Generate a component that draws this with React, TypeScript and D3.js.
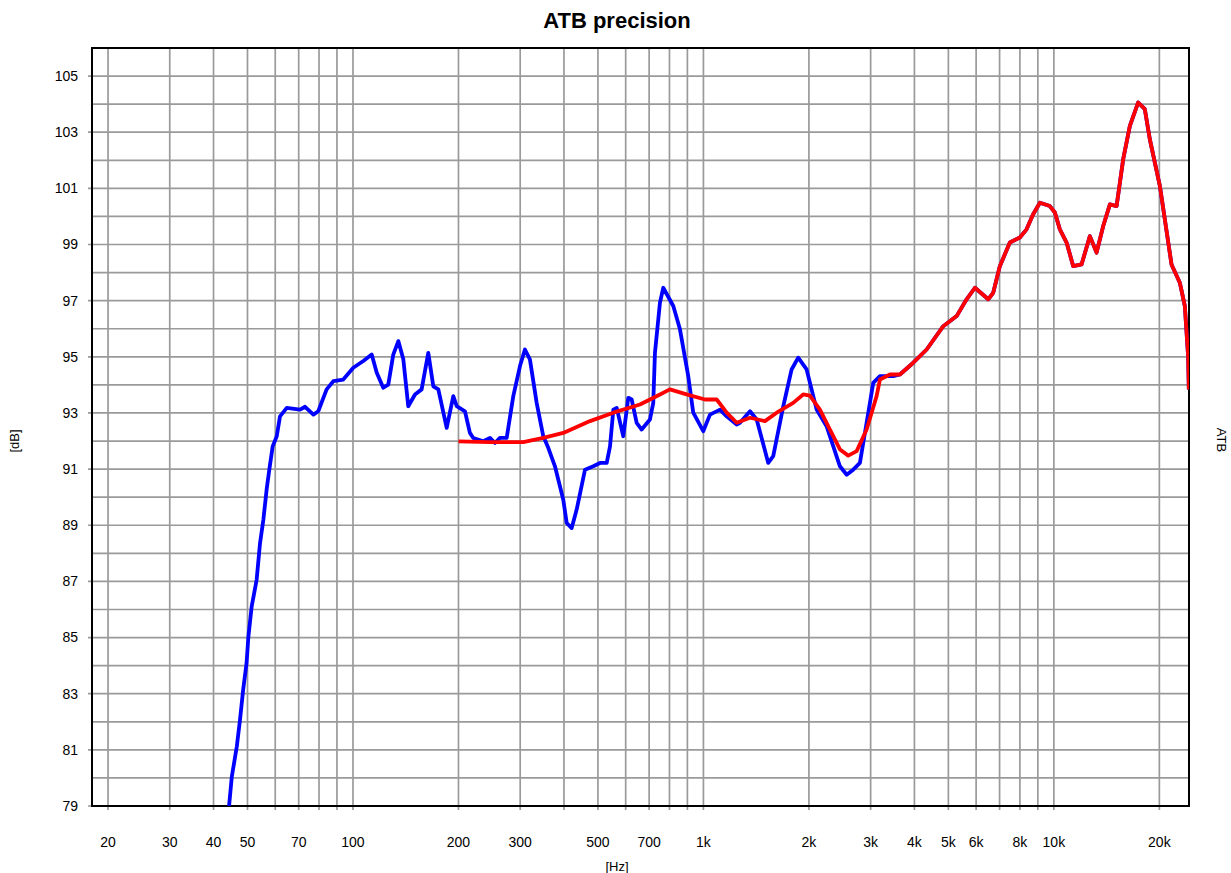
import { useEffect, useRef } from "react";
import * as d3 from "d3";

// blue trace: [Hz, dB]
const blueHz = [
  44.3, 45.1, 46.6, 47.6, 48.6, 49.7, 50.3, 51.4, 53.1, 54.3, 55.5, 56.7, 57.7, 59.0, 60.6, 61.9, 64.7, 70.6, 73.0,
  77.1, 79.6, 84.1, 87.9, 93.8, 100.2, 107, 113.1, 116.9, 122, 126.1, 130.3, 134.7, 139.2, 143.8, 150.3, 157, 164,
  169.5, 175.2, 185.1, 193.3, 197.7, 208.7, 215.6, 220.4, 235.4, 246, 254.2, 262.6, 274.5, 286.7, 299.6, 309.5,
  319.8, 334.3, 349.2, 360.8, 377, 398.2, 407.2, 420.8, 434.8, 459.3, 485.1, 506.9, 529.7, 541.3, 553.3, 565.6,
  590.6, 610.3, 624.1, 644.9, 666.4, 703.8, 719.2, 727.2, 751.6, 768.1, 820.4, 857.1, 905.1, 935.4, 998.8, 1044,
  1115, 1165, 1244, 1271, 1358, 1419, 1531, 1582, 1690, 1785, 1864, 1970, 2104, 2246, 2452, 2563, 2676, 2796, 2922,
  3052, 3189, 3481, 3636, 3970, 4335, 4835, 5279, 5636, 5953, 6497, 6713, 7012, 7489, 7998, 8358, 8728, 9122,
  9740, 10066, 10402, 10872, 11354, 11996, 12670, 13240, 13830, 14452, 15102, 15770, 16478, 17402, 18178, 18786,
  20064, 21663, 22879, 23645, 24163, 24273,
];
const blueDb = [
  79.0, 80.04, 81.11, 82.07, 83.14, 84.09, 85.04, 86.11, 87.06, 88.37, 89.2, 90.27, 90.98, 91.81, 92.17, 92.88,
  93.18, 93.12, 93.22, 92.94, 93.06, 93.84, 94.13, 94.19, 94.61, 94.85, 95.08, 94.43, 93.9, 94.01, 95.08, 95.56,
  94.91, 93.24, 93.66, 93.84, 95.14, 93.95, 93.84, 92.47, 93.6, 93.24, 93.06, 92.29, 92.11, 91.99, 92.11, 91.93,
  92.11, 92.11, 93.6, 94.67, 95.26, 94.91, 93.36, 92.17, 91.76, 91.1, 89.91, 89.08, 88.9, 89.56, 90.98, 91.1,
  91.22, 91.22, 91.81, 93.12, 93.18, 92.17, 93.54, 93.48, 92.65, 92.41, 92.77, 93.36, 95.14, 96.93, 97.46, 96.81,
  95.98, 94.31, 93.01, 92.35, 92.94, 93.12, 92.88, 92.59, 92.65, 93.06, 92.77, 91.22, 91.46, 93.24, 94.55, 94.97,
  94.55, 93.12, 92.53, 91.1, 90.8, 90.98, 91.22, 92.65, 94.07, 94.31, 94.31, 94.37, 94.79, 95.26, 96.09, 96.45,
  97.05, 97.46, 97.05, 97.28, 98.23, 99.07, 99.25, 99.54, 100.08, 100.49, 100.37, 100.14, 99.54, 99.07, 98.23,
  98.29, 99.3, 98.71, 99.66, 100.43, 100.37, 102.04, 103.23, 104.06, 103.82, 102.75, 101.09, 98.29, 97.64, 96.81,
  95.02, 93.84,
];

// red trace: [Hz, dB]
const redHz = [
  200, 246, 306.1, 349.2, 398.2, 474.6, 553.3, 659.1, 751.6, 802.4, 895.6, 1010, 1091, 1165, 1244, 1358, 1498, 1618,
  1804, 1926, 2013, 2150, 2296, 2452, 2590, 2737, 2922, 3120, 3189, 3406, 3636, 3970, 4335, 4835, 5279, 5636, 5953,
  6497, 6713, 7012, 7489, 7998, 8358, 8728, 9122, 9740, 10066, 10402, 10872, 11354, 11996, 12670, 13240, 13830,
  14452, 15102, 15770, 16478, 17402, 18178, 18786, 20064, 21663, 22879, 23645, 24163, 24273,
];
const redDb = [
  91.99, 91.96, 91.96, 92.11, 92.29, 92.71, 93.01, 93.3, 93.66, 93.84, 93.66, 93.48, 93.48, 93.01, 92.65, 92.83,
  92.71, 93.01, 93.36, 93.66, 93.62, 93.12, 92.41, 91.7, 91.48, 91.64, 92.41, 93.6, 94.19, 94.37, 94.37, 94.79,
  95.26, 96.09, 96.45, 97.05, 97.46, 97.05, 97.28, 98.23, 99.07, 99.25, 99.54, 100.08, 100.49, 100.37, 100.14,
  99.54, 99.07, 98.23, 98.29, 99.3, 98.71, 99.66, 100.43, 100.37, 102.04, 103.23, 104.06, 103.82, 102.75, 101.09,
  98.29, 97.64, 96.81, 95.02, 93.84,
];

const xTickValues = [20, 30, 40, 50, 70, 100, 200, 300, 500, 700, 1000, 2000, 3000, 4000, 5000, 6000, 8000, 10000, 20000];
const xTickLabels = ["20", "30", "40", "50", "70", "100", "200", "300", "500", "700", "1k", "2k", "3k", "4k", "5k", "6k", "8k", "10k", "20k"];
const yTickValues = [79, 81, 83, 85, 87, 89, 91, 93, 95, 97, 99, 101, 103, 105];

export default function App() {
  const ref = useRef<SVGSVGElement>(null);

  useEffect(() => {
    if (!ref.current) return;
    const svg = d3.select(ref.current);
    svg.selectAll("*").remove();

    const W = 1231;
    const H = 873;
    const m = { top: 48, right: 42, bottom: 67, left: 92 };
    const w = W - m.left - m.right;
    const h = H - m.top - m.bottom;
    const font = "Arial, 'Liberation Sans', sans-serif";

    const x = d3.scaleLog().domain([18, 24300]).range([0, w]);
    const y = d3.scaleLinear().domain([79, 106]).range([h, 0]);

    svg.append("rect").attr("width", W).attr("height", H).attr("fill", "#fff");

    // title
    svg
      .append("text")
      .attr("x", 617)
      .attr("y", 28)
      .attr("text-anchor", "middle")
      .attr("font-family", font)
      .attr("font-weight", "bold")
      .attr("font-size", 22)
      .attr("fill", "#000")
      .text("ATB precision");

    const g = svg.append("g").attr("transform", `translate(${m.left},${m.top})`);

    // grid
    const gridX: number[] = [];
    [10, 100, 1000, 10000].forEach((dec) => {
      for (let k = 1; k <= 9; k++) {
        const v = dec * k;
        if (v > 18 && v < 24300) gridX.push(v);
      }
    });
    g.append("g")
      .selectAll("line")
      .data(gridX)
      .join("line")
      .attr("x1", (d) => x(d))
      .attr("x2", (d) => x(d))
      .attr("y1", 0)
      .attr("y2", h + 4)
      .attr("stroke", "#9a9a9a")
      .attr("stroke-width", 1.7);

    g.append("g")
      .selectAll("line")
      .data(d3.range(79, 106))
      .join("line")
      .attr("x1", (d) => (yTickValues.includes(d) ? -4 : 0))
      .attr("x2", w)
      .attr("y1", (d) => y(d))
      .attr("y2", (d) => y(d))
      .attr("stroke", "#9a9a9a")
      .attr("stroke-width", 1.7);

    // tick labels
    g.append("g")
      .selectAll("text")
      .data(yTickValues)
      .join("text")
      .attr("x", -14)
      .attr("y", (d) => y(d))
      .attr("dy", "0.35em")
      .attr("text-anchor", "end")
      .attr("font-family", font)
      .attr("font-size", 14)
      .attr("fill", "#000")
      .text((d) => String(d));

    g.append("g")
      .selectAll("text")
      .data(xTickValues)
      .join("text")
      .attr("x", (d) => x(d))
      .attr("y", h + 41)
      .attr("text-anchor", "middle")
      .attr("font-family", font)
      .attr("font-size", 14)
      .attr("fill", "#000")
      .text((d, i) => xTickLabels[i]);

    // frame
    g.append("rect")
      .attr("width", w)
      .attr("height", h)
      .attr("fill", "none")
      .attr("stroke", "#000")
      .attr("stroke-width", 2);

    // curves
    const line = d3
      .line<[number, number]>()
      .x((d) => x(d[0]))
      .y((d) => y(d[1]));

    const clip = g.append("clipPath").attr("id", "plotclip");
    clip.append("rect").attr("width", w).attr("height", h);

    const curves = g.append("g").attr("clip-path", "url(#plotclip)");
    curves
      .append("path")
      .datum(blueHz.map((f, i) => [f, blueDb[i]] as [number, number]))
      .attr("d", line)
      .attr("fill", "none")
      .attr("stroke", "#0000ff")
      .attr("stroke-width", 3.8)
      .attr("stroke-linejoin", "round");
    curves
      .append("path")
      .datum(redHz.map((f, i) => [f, redDb[i]] as [number, number]))
      .attr("d", line)
      .attr("fill", "none")
      .attr("stroke", "#ff0000")
      .attr("stroke-width", 3.8)
      .attr("stroke-linejoin", "round");

    // axis labels
    svg
      .append("text")
      .attr("x", 617)
      .attr("y", 871)
      .attr("text-anchor", "middle")
      .attr("font-family", font)
      .attr("font-size", 13)
      .attr("fill", "#000")
      .text("[Hz]");

    svg
      .append("text")
      .attr("transform", "translate(19,441) rotate(-90)")
      .attr("text-anchor", "middle")
      .attr("font-family", font)
      .attr("font-size", 13)
      .attr("fill", "#000")
      .text("[dB]");

    svg
      .append("text")
      .attr("transform", "translate(1217,440) rotate(90)")
      .attr("text-anchor", "middle")
      .attr("font-family", font)
      .attr("font-size", 13)
      .attr("fill", "#000")
      .text("ATB");
  }, []);

  return (
    <div style={{ position: "absolute", left: 0, top: 0 }}>
      <svg ref={ref} width={1231} height={873} style={{ display: "block" }} />
    </div>
  );
}
